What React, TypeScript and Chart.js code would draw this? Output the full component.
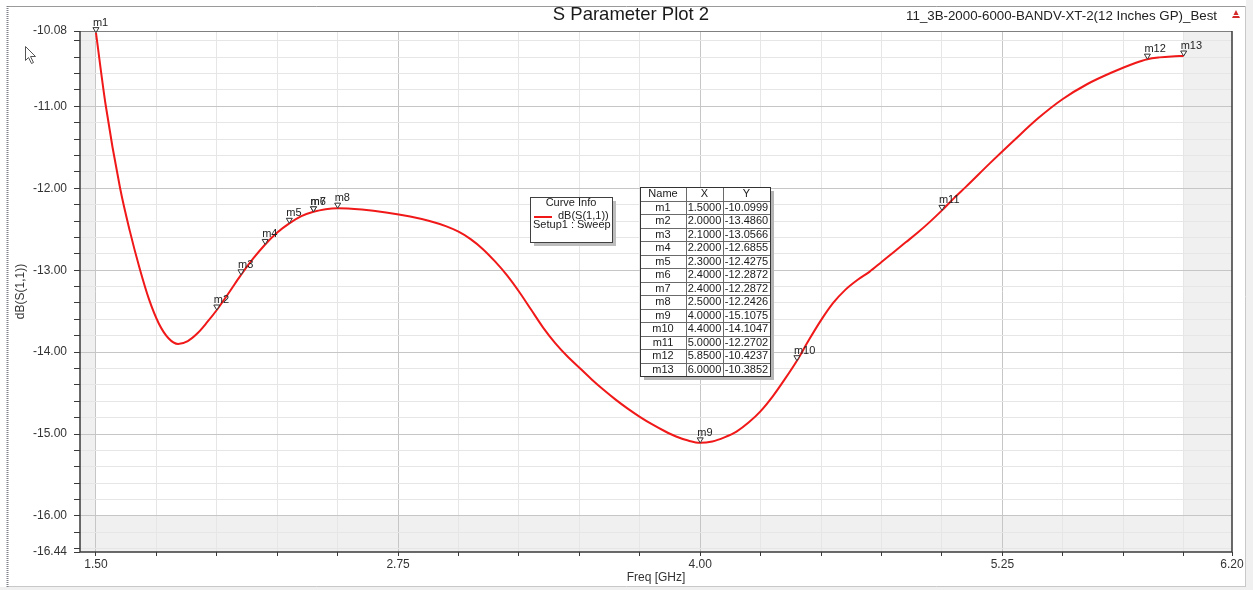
import { useEffect, useRef } from "react";
import { Chart, registerables } from "chart.js";

Chart.register(...registerables);

// ---- data ----
const freqGHz = [
  1.5, 1.54, 1.6, 1.64, 1.68, 1.72, 1.76, 1.8, 1.84, 1.88, 1.92, 1.96, 2.0, 2.05, 2.1, 2.15, 2.2, 2.25,
  2.3, 2.35, 2.4, 2.45, 2.5, 2.6, 2.7, 2.8, 2.88, 2.95, 3.0, 3.05, 3.1, 3.15, 3.2, 3.25, 3.3, 3.35,
  3.4, 3.45, 3.5, 3.55, 3.6, 3.65, 3.7, 3.75, 3.8, 3.85, 3.9, 3.95, 4.0, 4.05, 4.1, 4.15, 4.2, 4.25,
  4.3, 4.35, 4.4, 4.45, 4.5, 4.55, 4.6, 4.65, 4.7, 4.75, 4.8, 4.85, 4.9, 4.95, 5.0, 5.05, 5.1, 5.2,
  5.3, 5.4, 5.5, 5.6, 5.7, 5.8, 5.85, 5.9, 5.95, 6.0,
];
const s11dB = [
  -10.1, -10.98, -12.0, -12.52, -12.97, -13.36, -13.65, -13.83, -13.9, -13.865, -13.77, -13.635, -13.486,
  -13.275, -13.057, -12.86, -12.686, -12.54, -12.428, -12.34, -12.287, -12.255, -12.243, -12.26, -12.295,
  -12.345, -12.4, -12.465, -12.53, -12.62, -12.74, -12.89, -13.06, -13.26, -13.48, -13.7, -13.89, -14.05,
  -14.19, -14.33, -14.46, -14.58, -14.69, -14.79, -14.88, -14.96, -15.03, -15.08, -15.1075, -15.09, -15.04,
  -14.97, -14.86, -14.72, -14.54, -14.33, -14.105, -13.85, -13.61, -13.4, -13.24, -13.12, -13.02, -12.9,
  -12.78, -12.66, -12.54, -12.41, -12.27, -12.12, -11.98, -11.69, -11.41, -11.14, -10.91, -10.73, -10.59,
  -10.47, -10.424, -10.402, -10.39, -10.385,
];

const markerNames = ["m1", "m2", "m3", "m4", "m5", "m6", "m7", "m8", "m9", "m10", "m11", "m12", "m13"];
const markerFreq = [1.5, 2.0, 2.1, 2.2, 2.3, 2.4, 2.4, 2.5, 4.0, 4.4, 5.0, 5.85, 6.0];
const markerDB = [
  -10.0999, -13.486, -13.0566, -12.6855, -12.4275, -12.2872, -12.2872, -12.2426, -15.1075, -14.1047,
  -12.2702, -10.4237, -10.3852,
];

const xTickValues = [
  1.5, 1.75, 2.0, 2.25, 2.5, 2.75, 3.0, 3.25, 3.5, 3.75, 4.0, 4.25, 4.5, 4.75, 5.0, 5.25, 5.5, 5.75, 6.0, 6.2,
];
const xLabelValues = [1.5, 2.75, 4.0, 5.25, 6.2];
const xMajorGrid = [1.5, 2.75, 4.0, 5.25];
const yTickValues = [
  -16.44, -16.4, -16.2, -16.0, -15.8, -15.6, -15.4, -15.2, -15.0, -14.8, -14.6, -14.4, -14.2, -14.0, -13.8,
  -13.6, -13.4, -13.2, -13.0, -12.8, -12.6, -12.4, -12.2, -12.0, -11.8, -11.6, -11.4, -11.2, -11.0, -10.8,
  -10.6, -10.4, -10.2, -10.08,
];
const yLabelValues = [-10.08, -11, -12, -13, -14, -15, -16, -16.44];
const yMajorGrid = [-11, -12, -13, -14, -15, -16];

const X_MIN = 1.434;
const X_MAX = 6.2;
const Y_MIN = -16.44;
const Y_MAX = -10.08;
const SWEEP_START = 1.5;
const SWEEP_END = 6.0;
const Y_SHADE = -16.0;

const TITLE = "S Parameter Plot 2";
const SUBTITLE = "11_3B-2000-6000-BANDV-XT-2(12 Inches GP)_Best";
const X_TITLE = "Freq [GHz]";
const Y_TITLE = "dB(S(1,1))";
const LEGEND_TITLE = "Curve Info";
const LEGEND_TRACE = "dB(S(1,1))";
const LEGEND_SETUP = "Setup1 : Sweep";
const TABLE_HEAD = ["Name", "X", "Y"];

const FONT = "'Liberation Sans', Arial, sans-serif";
const RED = "#f01818";

const near = (a: number, list: number[]) => list.some((v) => Math.abs(v - a) < 1e-6);

const drawPlugin = {
  id: "hfssDecor",
  beforeDraw(chart: any) {
    const { ctx, chartArea: a, scales } = chart;
    const x = scales.x;
    const y = scales.y;
    ctx.save();
    ctx.fillStyle = "#ffffff";
    ctx.fillRect(0, 0, chart.width, chart.height);
    ctx.fillStyle = "#f0f0f0";
    const xs = x.getPixelForValue(SWEEP_START);
    const xe = x.getPixelForValue(SWEEP_END);
    const ys = y.getPixelForValue(Y_SHADE);
    ctx.fillRect(a.left, a.top, xs - a.left, a.bottom - a.top);
    ctx.fillRect(xe, a.top, a.right - xe, a.bottom - a.top);
    ctx.fillRect(a.left, ys, a.right - a.left, a.bottom - ys);
    ctx.restore();
  },
  afterDraw(chart: any) {
    const { ctx, chartArea: a, scales } = chart;
    const x = scales.x;
    const y = scales.y;
    ctx.save();

    // outer frame
    ctx.fillStyle = "#f0f0f0";
    ctx.fillRect(0, 587, chart.width, chart.height - 587);
    ctx.fillRect(1246, 0, chart.width - 1246, chart.height);
    ctx.strokeStyle = "#9a9a9a";
    ctx.lineWidth = 1;
    ctx.beginPath();
    ctx.moveTo(7, 6.5);
    ctx.lineTo(1246, 6.5);
    ctx.stroke();
    ctx.strokeStyle = "#c8c8c8";
    ctx.beginPath();
    ctx.moveTo(1245.5, 6);
    ctx.lineTo(1245.5, 587);
    ctx.moveTo(7, 586.5);
    ctx.lineTo(1246, 586.5);
    ctx.stroke();
    ctx.strokeStyle = "#7d8088";
    ctx.lineWidth = 2;
    ctx.setLineDash([1, 1]);
    ctx.beginPath();
    ctx.moveTo(7.5, 6);
    ctx.lineTo(7.5, 587);
    ctx.stroke();
    ctx.setLineDash([]);

    // plot border
    ctx.lineWidth = 1;
    ctx.strokeStyle = "#808080";
    ctx.beginPath();
    ctx.moveTo(a.left, a.top + 0.5);
    ctx.lineTo(a.right, a.top + 0.5);
    ctx.stroke();
    ctx.strokeStyle = "#3a3a3a";
    ctx.lineWidth = 1.5;
    ctx.beginPath();
    ctx.moveTo(a.left, a.top);
    ctx.lineTo(a.left, a.bottom);
    ctx.lineTo(a.right, a.bottom);
    ctx.moveTo(a.right, a.top);
    ctx.lineTo(a.right, a.bottom);
    ctx.stroke();

    // titles
    ctx.fillStyle = "#1a1a1a";
    ctx.textBaseline = "middle";
    ctx.textAlign = "center";
    ctx.font = `18.5px ${FONT}`;
    ctx.fillText(TITLE, 631, 15);
    ctx.textAlign = "right";
    ctx.font = `13.3px ${FONT}`;
    ctx.fillStyle = "#222";
    ctx.fillText(SUBTITLE, 1217, 16);
    // little red icon
    ctx.fillStyle = "#d42a2a";
    ctx.beginPath();
    ctx.moveTo(1236, 10);
    ctx.lineTo(1240, 18);
    ctx.lineTo(1232, 18);
    ctx.closePath();
    ctx.fill();
    ctx.fillStyle = "#ffffff";
    ctx.fillRect(1233, 15, 6, 1);

    // axis titles
    ctx.fillStyle = "#333";
    ctx.font = `12px ${FONT}`;
    ctx.textAlign = "center";
    ctx.fillText(X_TITLE, (a.left + a.right) / 2, 578);
    ctx.save();
    ctx.translate(21, (a.top + a.bottom) / 2);
    ctx.rotate(-Math.PI / 2);
    ctx.fillText(Y_TITLE, 0, 0);
    ctx.restore();

    // cursor arrow
    ctx.beginPath();
    ctx.moveTo(25.5, 46.5);
    ctx.lineTo(25.5, 60.5);
    ctx.lineTo(28.5, 57.5);
    ctx.lineTo(31.5, 63.5);
    ctx.lineTo(33.5, 62.5);
    ctx.lineTo(30.5, 56.5);
    ctx.lineTo(35.5, 56.5);
    ctx.closePath();
    ctx.fillStyle = "#ffffff";
    ctx.fill();
    ctx.strokeStyle = "#555";
    ctx.lineWidth = 1;
    ctx.stroke();

    // markers
    ctx.font = `11px ${FONT}`;
    ctx.textAlign = "left";
    ctx.textBaseline = "alphabetic";
    for (let i = 0; i < markerNames.length; i++) {
      const px = x.getPixelForValue(markerFreq[i]);
      const py = y.getPixelForValue(markerDB[i]);
      ctx.beginPath();
      ctx.moveTo(px, py);
      ctx.lineTo(px - 3, py - 5);
      ctx.lineTo(px + 3, py - 5);
      ctx.closePath();
      ctx.fillStyle = "#ffffff";
      ctx.fill();
      ctx.strokeStyle = "#333";
      ctx.lineWidth = 1;
      ctx.stroke();
      ctx.fillStyle = "#222";
      ctx.fillText(markerNames[i], px - 3, py - 7);
    }

    // legend box
    const lx = 530;
    const ly = 197;
    const lw = 82;
    const lh = 45;
    ctx.fillStyle = "#bdbdbd";
    ctx.fillRect(lx + 4, ly + 4, lw, lh);
    ctx.fillStyle = "#ffffff";
    ctx.fillRect(lx, ly, lw, lh);
    ctx.strokeStyle = "#404040";
    ctx.lineWidth = 1;
    ctx.strokeRect(lx + 0.5, ly + 0.5, lw, lh);
    ctx.fillStyle = "#222";
    ctx.textBaseline = "middle";
    ctx.textAlign = "center";
    ctx.fillText(LEGEND_TITLE, lx + 41, ly + 6);
    ctx.strokeStyle = RED;
    ctx.lineWidth = 2;
    ctx.beginPath();
    ctx.moveTo(lx + 4, ly + 20);
    ctx.lineTo(lx + 22, ly + 20);
    ctx.stroke();
    ctx.textAlign = "left";
    ctx.fillText(LEGEND_TRACE, lx + 28, ly + 19);
    ctx.fillText(LEGEND_SETUP, lx + 3, ly + 28);

    // marker table
    const tx = 640;
    const ty = 187;
    const cw = [46, 37, 47];
    const rh = 13.5;
    const rows = markerNames.length + 1;
    const tw = cw[0] + cw[1] + cw[2];
    const th = rows * rh;
    ctx.fillStyle = "#b5b5b5";
    ctx.fillRect(tx + 4, ty + 4, tw, th);
    ctx.fillStyle = "#ffffff";
    ctx.fillRect(tx, ty, tw, th);
    ctx.strokeStyle = "#6a6a6a";
    ctx.lineWidth = 1;
    ctx.beginPath();
    for (let r = 1; r < rows; r++) {
      const yy = Math.round(ty + r * rh) + 0.5;
      ctx.moveTo(tx, yy);
      ctx.lineTo(tx + tw, yy);
    }
    ctx.moveTo(tx + cw[0] + 0.5, ty);
    ctx.lineTo(tx + cw[0] + 0.5, ty + th);
    ctx.moveTo(tx + cw[0] + cw[1] + 0.5, ty);
    ctx.lineTo(tx + cw[0] + cw[1] + 0.5, ty + th);
    ctx.stroke();
    ctx.strokeStyle = "#333";
    ctx.strokeRect(tx + 0.5, ty + 0.5, tw, th);
    ctx.fillStyle = "#1a1a1a";
    ctx.textAlign = "center";
    ctx.textBaseline = "middle";
    const cx = [tx + cw[0] / 2, tx + cw[0] + cw[1] / 2, tx + cw[0] + cw[1] + cw[2] / 2];
    for (let c = 0; c < 3; c++) ctx.fillText(TABLE_HEAD[c], cx[c], ty + rh / 2 + 0.5);
    for (let i = 0; i < markerNames.length; i++) {
      const yy = ty + (i + 1) * rh + rh / 2 + 0.5;
      ctx.fillText(markerNames[i], cx[0], yy);
      ctx.fillText(markerFreq[i].toFixed(4), cx[1], yy);
      ctx.fillText(markerDB[i].toFixed(4), cx[2], yy);
    }

    ctx.restore();
  },
};

export default function App() {
  const ref = useRef<HTMLCanvasElement | null>(null);
  useEffect(() => {
    if (!ref.current) return;
    const chart = new Chart(ref.current, {
      type: "line",
      data: {
        datasets: [
          {
            label: LEGEND_TRACE,
            data: freqGHz.map((f, i) => ({ x: f, y: s11dB[i] })),
            borderColor: RED,
            borderWidth: 2,
            pointRadius: 0,
            cubicInterpolationMode: "monotone",
            fill: false,
          },
        ],
      },
      options: {
        animation: false,
        responsive: false,
        devicePixelRatio: 1,
        layout: { padding: { left: 0, right: 21, top: 31, bottom: 0 } },
        plugins: { legend: { display: false }, tooltip: { enabled: false }, title: { display: false } },
        scales: {
          x: {
            type: "linear",
            min: X_MIN,
            max: X_MAX,
            afterBuildTicks: (s: any) => {
              s.ticks = xTickValues.map((v) => ({ value: v }));
            },
            afterFit: (s: any) => {
              s.height = 38;
            },
            border: { display: false },
            grid: {
              color: (c: any) =>
                c.tick && near(c.tick.value, xMajorGrid)
                  ? "#c6c6c6"
                  : c.tick && Math.abs(c.tick.value - X_MAX) < 1e-6
                  ? "rgba(0,0,0,0)"
                  : "#e6e6e6",
              tickColor: "#3a3a3a",
              tickLength: 4,
              lineWidth: 1,
            },
            ticks: {
              autoSkip: false,
              maxRotation: 0,
              padding: 1,
              color: "#333",
              font: { family: FONT, size: 12 },
              callback: (v: any) => (near(Number(v), xLabelValues) ? Number(v).toFixed(2) : ""),
            },
          },
          y: {
            type: "linear",
            min: Y_MIN,
            max: Y_MAX,
            afterBuildTicks: (s: any) => {
              s.ticks = yTickValues.map((v) => ({ value: v }));
            },
            afterFit: (s: any) => {
              s.width = 80;
            },
            border: { display: false },
            grid: {
              color: (c: any) =>
                c.tick && near(c.tick.value, yMajorGrid)
                  ? "#c6c6c6"
                  : c.tick && near(c.tick.value, [Y_MIN, Y_MAX])
                  ? "rgba(0,0,0,0)"
                  : "#e6e6e6",
              tickColor: "#3a3a3a",
              tickLength: 6,
              lineWidth: 1,
            },
            ticks: {
              autoSkip: false,
              padding: 7,
              color: "#333",
              font: { family: FONT, size: 12 },
              callback: (v: any) => (near(Number(v), yLabelValues) ? Number(v).toFixed(2) : ""),
            },
          },
        },
      },
      plugins: [drawPlugin],
    });
    return () => chart.destroy();
  }, []);
  return (
    <div style={{ position: "fixed", left: 0, top: 0, width: 1253, height: 590 }}>
      <canvas ref={ref} width={1253} height={590} style={{ display: "block" }} />
    </div>
  );
}
